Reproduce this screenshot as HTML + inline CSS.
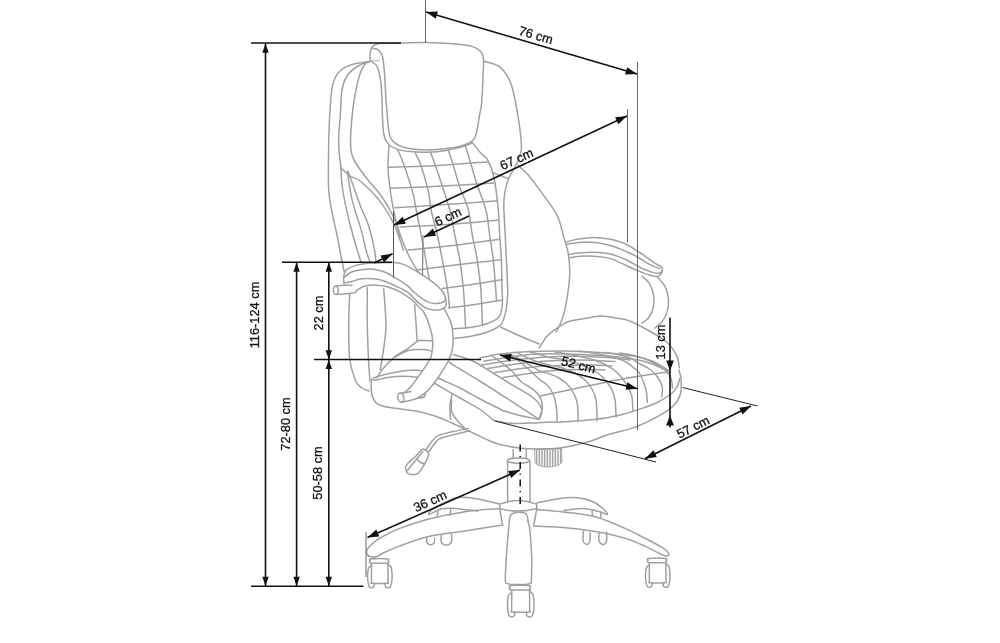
<!DOCTYPE html>
<html><head><meta charset="utf-8"><style>
html,body{margin:0;padding:0;background:#fff;width:1000px;height:643px;overflow:hidden}
svg{display:block;will-change:transform}
text{font-family:"Liberation Sans",sans-serif}
</style></head><body>
<svg width="1000" height="643" viewBox="0 0 1000 643" font-family="Liberation Sans, sans-serif"><path d="M378.0,43.5 C381.8,43.4 393.0,43.1 401.0,43.0 C409.0,42.9 416.5,42.4 426.0,42.6 C435.5,42.8 450.3,43.7 458.0,44.3 C465.7,44.9 468.3,45.2 472.0,46.4 C475.7,47.6 478.5,49.4 480.4,51.3 C482.3,53.2 482.8,55.1 483.3,57.6 C483.8,60.1 483.8,58.8 483.5,66.0 C483.2,73.2 482.4,92.8 481.8,101.0 C481.2,109.2 480.4,110.3 479.6,115.0 C478.8,119.7 478.0,125.6 477.2,129.4 C476.4,133.2 476.0,135.6 474.8,137.8 C473.6,140.0 470.8,141.8 470.0,142.6" fill="none" stroke="#a0a0a0" stroke-width="1.5" stroke-linecap="round" stroke-linejoin="round"/>
<path d="M378.0,43.6 C377.1,44.1 373.8,45.1 372.5,46.5 C371.2,47.9 370.7,49.6 370.3,52.0 C369.9,54.4 370.2,59.5 370.2,61.0" fill="none" stroke="#a0a0a0" stroke-width="1.5" stroke-linecap="round" stroke-linejoin="round"/>
<path d="M373.0,48.5 C373.9,48.7 376.6,48.6 378.2,49.9 C379.8,51.2 381.3,52.4 382.4,56.2 C383.4,60.1 383.9,65.7 384.5,73.0 C385.1,80.3 385.5,93.0 386.0,100.0 C386.5,107.0 386.9,110.3 387.3,115.0 C387.7,119.7 387.9,124.3 388.4,128.0 C388.9,131.7 389.2,134.6 390.2,137.0 C391.2,139.4 392.1,140.9 394.4,142.6 C396.7,144.3 399.4,146.2 404.0,147.4 C408.6,148.6 416.0,149.5 422.0,149.8 C428.0,150.1 434.0,149.7 440.0,149.2 C446.0,148.7 453.0,147.9 458.0,146.8 C463.0,145.7 468.0,143.3 470.0,142.6" fill="none" stroke="#a0a0a0" stroke-width="1.5" stroke-linecap="round" stroke-linejoin="round"/>
<path d="M370.2,61.0 C371.3,61.8 375.1,62.8 376.8,66.0 C378.5,69.2 379.6,74.3 380.5,80.0 C381.4,85.7 381.7,94.2 382.0,100.0 C382.3,105.8 382.1,109.5 382.4,115.0 C382.7,120.5 382.8,128.4 383.6,133.0 C384.4,137.6 385.2,140.0 387.2,142.6 C389.2,145.2 391.8,147.1 395.6,148.6 C399.4,150.1 404.6,151.0 410.0,151.6 C415.4,152.2 422.0,152.4 428.0,152.2 C434.0,152.0 440.0,151.4 446.0,150.4 C452.0,149.4 459.6,147.5 464.0,146.2 C468.4,144.9 471.0,143.2 472.4,142.6" fill="none" stroke="#a0a0a0" stroke-width="1.5" stroke-linecap="round" stroke-linejoin="round"/>
<line x1="370" y1="60.8" x2="380" y2="60.8" stroke="#a0a0a0" stroke-width="0.8" />
<path d="M369.5,61.5 C366.6,62.0 356.9,62.9 352.0,64.5 C347.1,66.1 343.1,68.1 340.0,71.0 C336.9,73.9 335.0,77.7 333.5,82.0 C332.0,86.3 331.7,90.7 331.0,97.0 C330.3,103.3 329.9,112.3 329.5,120.0 C329.1,127.7 328.8,131.3 328.7,143.0 C328.6,154.7 327.9,177.5 328.7,190.0 C329.5,202.5 331.9,210.5 333.3,218.0 C334.7,225.5 335.8,229.1 337.0,235.0 C338.2,240.9 339.3,247.1 340.5,253.3 C341.7,259.5 343.7,268.9 344.3,272.0" fill="none" stroke="#a0a0a0" stroke-width="1.5" stroke-linecap="round" stroke-linejoin="round"/>
<path d="M369.5,61.5 C367.6,62.2 361.8,63.6 358.0,66.0 C354.2,68.4 349.7,72.0 347.0,76.0 C344.3,80.0 343.1,84.0 342.0,90.0 C340.9,96.0 341.1,103.2 340.5,112.0 C339.9,120.8 338.5,133.7 338.6,143.0 C338.7,152.3 340.6,163.8 341.0,168.0" fill="none" stroke="#a0a0a0" stroke-width="1.5" stroke-linecap="round" stroke-linejoin="round"/>
<path d="M341.0,168.0 C341.2,171.3 341.2,180.0 342.4,188.0 C343.6,196.0 345.8,206.7 348.0,216.0 C350.2,225.3 353.2,236.3 355.4,244.0 C357.6,251.7 360.1,259.0 361.0,262.0" fill="none" stroke="#a0a0a0" stroke-width="1.5" stroke-linecap="round" stroke-linejoin="round"/>
<path d="M348.0,171.2 C348.8,173.5 351.4,180.7 353.0,185.0 C354.6,189.3 355.8,193.1 357.3,197.3 C358.8,201.5 360.1,205.3 362.0,210.0 C363.9,214.7 366.5,219.0 368.5,225.3 C370.5,231.6 372.9,241.6 374.1,247.7 C375.4,253.8 375.7,259.6 376.0,262.0" fill="none" stroke="#a0a0a0" stroke-width="1.5" stroke-linecap="round" stroke-linejoin="round"/>
<path d="M341.0,168.0 C342.5,169.3 346.8,173.8 350.0,176.0 C353.2,178.2 355.3,177.1 360.0,181.0 C364.7,184.9 372.7,192.1 378.4,199.3 C384.1,206.5 389.9,215.8 394.0,224.2 C398.1,232.6 401.8,245.7 403.3,250.0" fill="none" stroke="#a0a0a0" stroke-width="1.5" stroke-linecap="round" stroke-linejoin="round"/>
<path d="M369.8,61.5 C369.0,61.9 366.6,61.9 365.0,64.0 C363.4,66.1 361.5,69.7 360.0,74.0 C358.5,78.3 357.2,83.7 356.0,90.0 C354.8,96.3 353.4,103.2 352.5,112.0 C351.6,120.8 350.3,135.2 350.5,143.0 C350.7,150.8 350.9,153.2 353.5,158.9 C356.1,164.7 361.3,171.3 366.0,177.5 C370.7,183.7 376.8,189.4 381.5,196.2 C386.2,202.9 390.9,211.3 394.0,218.0 C397.1,224.7 399.2,233.5 400.2,236.6" fill="none" stroke="#a0a0a0" stroke-width="1.5" stroke-linecap="round" stroke-linejoin="round"/>
<path d="M347.3,171.3 C348.1,176.0 349.7,189.5 352.0,199.3 C354.3,209.2 359.0,222.0 361.3,230.4 C363.6,238.8 364.6,244.7 366.0,250.0 C367.4,255.3 369.3,260.0 370.0,262.0" fill="none" stroke="#a0a0a0" stroke-width="1.5" stroke-linecap="round" stroke-linejoin="round"/>
<path d="M483.5,61.0 C486.3,62.1 495.8,63.4 500.4,67.4 C505.0,71.4 508.4,76.8 511.3,84.8 C514.2,92.8 516.1,105.1 517.8,115.2 C519.5,125.3 521.2,138.9 521.5,145.7 C521.8,152.5 520.4,152.8 519.5,156.0 C518.6,159.2 517.4,162.0 516.0,165.0 C514.6,168.0 512.5,171.0 511.0,174.0 C509.5,177.0 508.0,180.0 507.0,183.0 C506.0,186.0 505.5,189.2 505.0,192.0 C504.5,194.8 504.2,198.7 504.0,200.0" fill="none" stroke="#a0a0a0" stroke-width="1.5" stroke-linecap="round" stroke-linejoin="round"/>
<path d="M493.1,172.6 C494.2,173.1 497.4,174.5 500.0,175.5 C502.6,176.5 507.2,178.2 508.7,178.8" fill="none" stroke="#a0a0a0" stroke-width="1.5" stroke-linecap="round" stroke-linejoin="round"/>
<path d="M518.0,165.0 C518.7,165.7 520.2,167.2 522.0,169.0 C523.8,170.8 525.9,172.1 528.9,175.7 C531.9,179.3 535.3,183.8 540.0,190.4 C544.7,197.0 553.0,207.1 557.0,215.2 C561.0,223.3 562.4,232.7 564.3,239.0 C566.2,245.3 567.3,247.6 568.2,253.0 C569.1,258.4 569.8,265.5 569.8,271.7 C569.8,277.9 569.1,283.6 568.2,290.3 C567.3,297.0 565.7,306.3 564.3,312.1 C562.9,317.9 561.1,321.7 559.7,325.0 C558.3,328.3 556.6,330.8 556.0,332.0" fill="none" stroke="#a0a0a0" stroke-width="1.5" stroke-linecap="round" stroke-linejoin="round"/>
<path d="M504.0,200.0 C504.0,201.7 503.6,202.1 503.9,210.0 C504.2,217.9 505.2,234.0 505.8,247.3 C506.4,260.6 507.5,281.2 507.7,290.0 C507.9,298.8 507.5,296.3 507.2,300.0 C506.9,303.7 506.7,307.9 505.6,312.0 C504.5,316.1 503.5,321.6 500.8,324.8 C498.1,328.0 494.4,329.3 489.6,331.2 C484.8,333.1 477.9,334.8 472.0,336.0 C466.1,337.2 457.3,338.0 454.4,338.4" fill="none" stroke="#a0a0a0" stroke-width="1.5" stroke-linecap="round" stroke-linejoin="round"/>
<path d="M389.0,145.6 C388.8,149.3 387.8,160.3 388.0,168.0 C388.2,175.7 389.5,184.7 390.5,192.0 C391.5,199.3 392.8,206.0 394.0,212.0 C395.2,218.0 396.3,222.5 398.0,228.0 C399.7,233.5 402.0,240.0 404.0,245.0 C406.0,250.0 407.8,253.8 410.0,258.0 C412.2,262.2 414.5,266.3 417.0,270.0 C419.5,273.7 423.7,278.3 425.0,280.0" fill="none" stroke="#a0a0a0" stroke-width="1.5" stroke-linecap="round" stroke-linejoin="round"/>
<path d="M472.4,142.6 C473.8,144.4 478.4,150.3 481.0,153.3 C483.6,156.3 485.8,156.5 488.0,160.6 C490.2,164.7 492.3,169.8 494.0,178.0 C495.7,186.2 497.4,200.5 498.3,210.0 C499.2,219.5 499.1,226.6 499.6,234.9 C500.1,243.2 501.0,250.6 501.4,259.8 C501.8,269.0 501.8,282.6 502.0,290.0 C502.2,297.4 502.9,299.5 502.4,304.0 C501.9,308.5 501.6,313.6 499.2,316.8 C496.8,320.0 492.5,321.5 488.0,323.2 C483.5,324.9 477.9,326.3 472.0,327.2 C466.1,328.1 456.0,328.5 452.8,328.8" fill="none" stroke="#a0a0a0" stroke-width="1.5" stroke-linecap="round" stroke-linejoin="round"/>
<path d="M398.0,150.4 C399.0,152.8 401.6,158.0 404.0,165.0 C406.4,172.0 410.7,184.7 412.7,192.2 C414.7,199.7 414.4,200.8 416.2,210.0 C418.0,219.2 421.5,236.3 423.6,247.3 C425.7,258.3 427.4,269.7 428.6,276.0 C429.8,282.3 430.6,283.5 431.0,285.0" fill="none" stroke="#a0a0a0" stroke-width="1.5" stroke-linecap="round" stroke-linejoin="round"/>
<path d="M414.8,152.2 C415.8,154.3 418.6,158.6 420.8,165.0 C423.0,171.4 426.5,183.2 428.2,190.7 C429.9,198.2 429.6,202.6 431.1,210.0 C432.6,217.4 435.4,226.6 437.3,234.9 C439.2,243.2 440.9,252.3 442.3,259.8 C443.8,267.3 445.0,274.1 446.0,280.0 C447.0,285.9 447.7,290.4 448.3,295.0 C448.9,299.6 449.2,305.5 449.4,307.6" fill="none" stroke="#a0a0a0" stroke-width="1.5" stroke-linecap="round" stroke-linejoin="round"/>
<path d="M430.4,152.2 C431.2,154.3 433.0,158.6 435.2,165.0 C437.4,171.4 441.4,183.2 443.8,190.7 C446.2,198.2 448.0,202.6 449.8,210.0 C451.6,217.4 453.2,226.6 454.8,234.9 C456.4,243.2 458.2,250.6 459.7,259.8 C461.1,269.0 462.5,278.6 463.5,290.0 C464.5,301.4 465.2,321.7 465.6,328.0" fill="none" stroke="#a0a0a0" stroke-width="1.5" stroke-linecap="round" stroke-linejoin="round"/>
<path d="M448.4,150.4 C449.2,152.8 451.4,159.1 453.2,165.0 C455.0,170.9 456.9,178.5 459.4,186.0 C461.9,193.5 466.3,201.8 468.4,210.0 C470.5,218.2 470.7,226.6 472.2,234.9 C473.7,243.2 475.8,250.6 477.2,259.8 C478.6,269.0 480.0,279.1 480.9,290.0 C481.8,300.9 482.1,319.2 482.4,325.0" fill="none" stroke="#a0a0a0" stroke-width="1.5" stroke-linecap="round" stroke-linejoin="round"/>
<path d="M465.2,145.6 C466.2,148.8 469.3,158.8 471.2,165.0 C473.1,171.2 474.1,175.4 476.5,182.9 C478.9,190.4 483.7,201.3 485.9,210.0 C488.1,218.7 488.4,226.6 489.6,234.9 C490.8,243.2 492.3,250.6 493.3,259.8 C494.3,269.0 495.3,283.1 495.8,290.0 C496.3,296.9 496.4,299.2 496.5,301.0" fill="none" stroke="#a0a0a0" stroke-width="1.5" stroke-linecap="round" stroke-linejoin="round"/>
<path d="M388.3,167.3 C396.6,167.0 421.5,166.4 438.0,165.5 C454.5,164.6 479.2,162.5 487.4,161.9" fill="none" stroke="#a0a0a0" stroke-width="1.5" stroke-linecap="round" stroke-linejoin="round"/>
<path d="M390.7,188.3 C399.2,187.9 424.7,186.9 442.0,186.0 C459.3,185.1 485.7,183.4 494.4,182.9" fill="none" stroke="#a0a0a0" stroke-width="1.5" stroke-linecap="round" stroke-linejoin="round"/>
<path d="M395.0,207.8 C403.5,207.2 428.9,205.7 446.0,204.5 C463.1,203.3 488.9,201.4 497.5,200.8" fill="none" stroke="#a0a0a0" stroke-width="1.5" stroke-linecap="round" stroke-linejoin="round"/>
<path d="M400.0,227.0 C408.5,226.6 434.6,225.5 451.0,224.3 C467.4,223.1 490.4,220.7 498.3,220.0" fill="none" stroke="#a0a0a0" stroke-width="1.5" stroke-linecap="round" stroke-linejoin="round"/>
<path d="M408.0,250.0 C416.2,249.2 441.9,246.7 457.2,244.9 C472.5,243.1 492.5,240.2 499.6,239.3" fill="none" stroke="#a0a0a0" stroke-width="1.5" stroke-linecap="round" stroke-linejoin="round"/>
<path d="M417.0,270.0 C423.7,269.1 443.1,266.5 457.2,264.8 C471.3,263.1 494.0,260.6 501.4,259.8" fill="none" stroke="#a0a0a0" stroke-width="1.5" stroke-linecap="round" stroke-linejoin="round"/>
<path d="M442.3,288.4 C447.2,287.8 462.0,285.9 472.0,284.5 C482.0,283.1 497.2,280.5 502.2,279.7" fill="none" stroke="#a0a0a0" stroke-width="1.5" stroke-linecap="round" stroke-linejoin="round"/>
<path d="M448.5,307.9 C452.9,307.3 466.1,305.8 475.0,304.5 C483.9,303.2 497.7,300.8 502.2,300.1" fill="none" stroke="#a0a0a0" stroke-width="1.5" stroke-linecap="round" stroke-linejoin="round"/>
<path d="M349.8,292.3 C349.6,297.8 348.7,313.7 348.7,325.0 C348.7,336.3 348.6,350.7 349.8,360.0 C351.0,369.3 353.7,376.3 355.7,381.0 C357.7,385.7 359.8,386.3 362.0,388.0 C364.2,389.7 367.8,390.5 369.0,391.0" fill="none" stroke="#a0a0a0" stroke-width="1.5" stroke-linecap="round" stroke-linejoin="round"/>
<path d="M367.3,287.7 C367.3,293.9 367.1,312.9 367.3,325.0 C367.5,337.1 368.1,350.7 368.5,360.0 C368.9,369.3 369.8,377.5 370.0,381.0" fill="none" stroke="#a0a0a0" stroke-width="1.5" stroke-linecap="round" stroke-linejoin="round"/>
<path d="M383.7,288.8 C384.1,294.8 386.0,315.1 386.0,325.0 C386.0,334.9 384.7,340.8 383.7,348.3 C382.7,355.8 380.8,366.4 380.2,370.0" fill="none" stroke="#a0a0a0" stroke-width="1.5" stroke-linecap="round" stroke-linejoin="round"/>
<path d="M414.6,304.8 C414.8,307.8 415.6,317.1 416.0,323.0 C416.4,328.9 417.0,337.6 417.2,340.5" fill="none" stroke="#a0a0a0" stroke-width="1.5" stroke-linecap="round" stroke-linejoin="round"/>
<path d="M424.4,313.2 C424.8,314.0 426.1,315.7 427.0,318.0 C427.9,320.3 429.5,325.5 430.0,327.0" fill="none" stroke="#a0a0a0" stroke-width="1.5" stroke-linecap="round" stroke-linejoin="round"/>
<path d="M417.0,340.5 C418.3,340.5 422.4,340.4 425.0,340.5 C427.6,340.6 431.5,340.9 432.8,341.0" fill="none" stroke="#a0a0a0" stroke-width="1.5" stroke-linecap="round" stroke-linejoin="round"/>
<path d="M371.2,380.4 C371.3,382.8 370.8,390.9 372.0,395.0 C373.2,399.1 374.5,402.4 378.7,404.7 C382.9,406.9 390.8,407.4 397.0,408.5 C403.2,409.6 409.7,409.8 416.0,411.0 C422.3,412.2 428.8,413.9 435.0,416.0 C441.2,418.1 446.8,420.8 453.0,423.5 C459.2,426.2 465.8,429.6 472.0,432.5 C478.2,435.4 485.0,438.9 490.0,441.0 C495.0,443.1 496.9,443.8 502.0,445.0 C507.1,446.2 514.0,447.6 520.7,448.3 C527.4,449.0 535.8,449.0 542.0,449.0 C548.2,449.0 553.3,448.8 558.0,448.3 C562.7,447.9 564.7,447.5 570.0,446.3 C575.3,445.1 583.3,443.4 590.0,441.3 C596.7,439.2 602.7,436.3 610.0,434.0 C617.3,431.7 626.0,430.5 634.0,427.6 C642.0,424.7 651.3,420.1 658.0,416.4 C664.7,412.7 670.3,408.9 674.0,405.2 C677.7,401.5 679.2,398.2 680.4,394.0 C681.6,389.8 681.4,384.0 681.2,380.0 C681.0,376.0 679.4,371.7 679.0,370.0" fill="none" stroke="#a0a0a0" stroke-width="1.5" stroke-linecap="round" stroke-linejoin="round"/>
<path d="M371.2,380.4 C372.1,379.8 372.4,378.1 376.8,376.7 C381.2,375.3 390.8,373.1 397.3,372.0 C403.8,370.9 410.9,370.0 416.0,370.1 C421.1,370.2 424.3,371.2 428.0,372.5 C431.7,373.8 432.7,375.4 438.0,378.0 C443.3,380.6 453.0,384.5 460.0,388.0 C467.0,391.5 473.3,395.5 480.0,399.0 C486.7,402.5 495.9,407.0 500.0,409.0 C504.1,411.0 501.4,410.0 504.4,411.0 C507.4,412.0 512.3,413.6 518.0,415.0 C523.7,416.4 535.1,418.6 538.5,419.3" fill="none" stroke="#a0a0a0" stroke-width="1.5" stroke-linecap="round" stroke-linejoin="round"/>
<path d="M376.8,377.6 C378.0,376.0 380.8,371.3 383.8,367.8 C386.8,364.3 391.3,359.6 395.0,356.6 C398.7,353.6 402.5,352.2 406.2,349.6 C409.9,347.0 415.5,342.6 417.4,341.2" fill="none" stroke="#a0a0a0" stroke-width="1.5" stroke-linecap="round" stroke-linejoin="round"/>
<path d="M395.0,357.0 C397.3,355.9 404.3,351.5 409.0,350.3 C413.7,349.1 419.3,349.5 423.0,349.6 C426.7,349.7 430.0,350.8 431.4,351.0" fill="none" stroke="#a0a0a0" stroke-width="1.5" stroke-linecap="round" stroke-linejoin="round"/>
<path d="M374.0,380.4 C376.3,379.9 383.3,378.2 388.0,377.5 C392.7,376.8 396.9,376.2 402.0,376.2 C407.1,376.2 414.5,377.0 418.8,377.6 C423.1,378.2 425.5,379.1 428.0,380.0 C430.5,380.9 428.7,380.0 434.0,383.0 C439.3,386.0 452.3,393.6 460.0,398.0 C467.7,402.4 474.3,405.7 480.0,409.5 C485.7,413.3 491.7,418.8 494.0,420.6" fill="none" stroke="#a0a0a0" stroke-width="1.5" stroke-linecap="round" stroke-linejoin="round"/>
<path d="M449.3,362.5 C454.4,365.6 469.1,374.4 479.7,381.0 C490.3,387.6 502.8,395.8 512.7,402.2 C522.6,408.6 534.8,416.4 539.2,419.3" fill="none" stroke="#a0a0a0" stroke-width="1.5" stroke-linecap="round" stroke-linejoin="round"/>
<path d="M453.2,354.5 C456.5,355.6 466.4,358.1 473.0,361.2 C479.6,364.3 486.7,369.3 492.9,373.0 C499.1,376.7 504.5,380.3 510.0,383.6 C515.5,386.9 521.8,390.2 526.0,392.9 C530.2,395.5 532.8,397.3 535.2,399.5 C537.6,401.7 539.4,403.9 540.5,406.1 C541.6,408.3 542.0,410.5 541.8,412.7 C541.6,414.9 539.6,418.2 539.2,419.3" fill="none" stroke="#a0a0a0" stroke-width="1.5" stroke-linecap="round" stroke-linejoin="round"/>
<path d="M451.9,394.5 C451.6,396.4 450.1,402.0 449.9,406.1 C449.7,410.2 450.5,417.1 450.6,419.3" fill="none" stroke="#a0a0a0" stroke-width="1.5" stroke-linecap="round" stroke-linejoin="round"/>
<path d="M480.0,358.0 C483.3,357.3 491.7,355.1 500.0,354.0 C508.3,352.9 519.0,352.0 530.0,351.5 C541.0,351.0 554.3,350.8 566.0,351.0 C577.7,351.2 588.8,351.8 600.0,352.6 C611.2,353.4 624.3,354.6 633.0,356.0 C641.7,357.4 646.2,358.7 652.0,361.0 C657.8,363.3 665.3,368.5 668.0,370.0" fill="none" stroke="#a0a0a0" stroke-width="1.5" stroke-linecap="round" stroke-linejoin="round"/>
<path d="M494.0,420.6 C496.7,421.1 504.0,422.9 510.0,423.3 C516.0,423.7 523.3,423.2 530.0,423.0 C536.7,422.8 544.7,422.2 550.0,422.0 C555.3,421.8 554.7,422.4 562.0,422.0 C569.3,421.6 584.7,420.7 594.0,419.6 C603.3,418.5 610.0,417.5 618.0,415.6 C626.0,413.7 635.3,410.7 642.0,408.4 C648.7,406.1 653.2,404.4 658.0,402.0 C662.8,399.6 667.8,396.5 671.0,394.0 C674.2,391.5 675.5,389.7 677.0,387.0 C678.5,384.3 679.5,379.5 680.0,378.0" fill="none" stroke="#a0a0a0" stroke-width="1.5" stroke-linecap="round" stroke-linejoin="round"/>
<path d="M484.0,361.0 C491.7,359.9 516.3,355.7 530.0,354.5 C543.7,353.3 554.3,353.8 566.0,354.0 C577.7,354.2 588.8,354.7 600.0,355.5 C611.2,356.3 624.3,357.6 633.0,359.0 C641.7,360.4 646.2,362.0 652.0,364.0 C657.8,366.0 665.3,369.8 668.0,371.0" fill="none" stroke="#a0a0a0" stroke-width="1.5" stroke-linecap="round" stroke-linejoin="round"/>
<path d="M557.0,421.0 C557.0,419.8 557.3,417.5 557.0,414.0 C556.7,410.5 556.0,404.0 555.0,400.0 C554.0,396.0 552.5,392.7 551.0,390.0 C549.5,387.3 547.8,385.7 546.0,384.0 C544.2,382.3 542.7,382.2 540.0,380.0 C537.3,377.8 533.3,373.5 530.0,370.5 C526.7,367.5 523.3,364.6 520.0,362.0 C516.7,359.4 511.7,356.2 510.0,355.0" fill="none" stroke="#a0a0a0" stroke-width="1.5" stroke-linecap="round" stroke-linejoin="round"/>
<path d="M578.0,421.0 C578.0,419.8 578.2,417.2 578.0,414.0 C577.8,410.8 577.8,405.7 577.0,402.0 C576.2,398.3 574.7,395.0 573.0,392.0 C571.3,389.0 569.3,386.3 567.0,384.0 C564.7,381.7 561.8,379.7 559.0,378.0 C556.2,376.3 553.2,375.2 550.0,374.0 C546.8,372.8 543.7,372.7 540.0,371.0 C536.3,369.3 532.0,366.3 528.0,364.0 C524.0,361.7 519.7,358.8 516.0,357.0 C512.3,355.2 507.7,354.1 506.0,353.5" fill="none" stroke="#a0a0a0" stroke-width="1.5" stroke-linecap="round" stroke-linejoin="round"/>
<path d="M597.0,421.0 C597.0,419.8 597.2,417.5 597.0,414.0 C596.8,410.5 596.8,404.2 596.0,400.0 C595.2,395.8 593.7,392.2 592.0,389.0 C590.3,385.8 588.3,383.3 586.0,381.0 C583.7,378.7 581.0,376.8 578.0,375.0 C575.0,373.2 571.5,371.4 568.0,370.0 C564.5,368.6 560.8,367.5 557.0,366.5 C553.2,365.5 548.7,364.9 545.0,364.0 C541.3,363.1 538.3,362.2 535.0,361.0 C531.7,359.8 527.8,357.8 525.0,356.5 C522.2,355.2 519.2,353.6 518.0,353.0" fill="none" stroke="#a0a0a0" stroke-width="1.5" stroke-linecap="round" stroke-linejoin="round"/>
<path d="M616.0,417.0 C616.0,416.5 616.2,416.8 616.0,414.0 C615.8,411.2 615.7,404.0 615.0,400.0 C614.3,396.0 613.5,393.2 612.0,390.0 C610.5,386.8 608.2,383.7 606.0,381.0 C603.8,378.3 601.7,376.0 599.0,374.0 C596.3,372.0 593.2,370.6 590.0,369.0 C586.8,367.4 584.2,366.0 580.0,364.5 C575.8,363.0 570.0,361.2 565.0,360.0 C560.0,358.8 554.5,358.5 550.0,357.5 C545.5,356.5 541.3,354.9 538.0,354.0 C534.7,353.1 531.3,352.3 530.0,352.0" fill="none" stroke="#a0a0a0" stroke-width="1.5" stroke-linecap="round" stroke-linejoin="round"/>
<path d="M633.0,411.0 C632.9,409.8 632.7,406.3 632.5,404.0 C632.3,401.7 632.8,399.8 632.0,397.0 C631.2,394.2 629.7,390.2 628.0,387.0 C626.3,383.8 624.3,380.8 622.0,378.0 C619.7,375.2 617.0,372.3 614.0,370.0 C611.0,367.7 607.3,365.7 604.0,364.0 C600.7,362.3 597.7,361.2 594.0,360.0 C590.3,358.8 586.3,358.0 582.0,357.0 C577.7,356.0 572.5,354.8 568.0,354.0 C563.5,353.2 557.2,352.3 555.0,352.0" fill="none" stroke="#a0a0a0" stroke-width="1.5" stroke-linecap="round" stroke-linejoin="round"/>
<path d="M647.3,402.2 C647.1,400.2 647.2,394.7 646.0,390.0 C644.8,385.3 642.0,377.7 640.0,374.0 C638.0,370.3 636.3,370.0 634.0,368.0 C631.7,366.0 629.0,363.7 626.0,362.0 C623.0,360.3 619.7,359.2 616.0,358.0 C612.3,356.8 608.3,355.9 604.0,355.0 C599.7,354.1 594.3,353.1 590.0,352.5 C585.7,351.9 580.0,351.5 578.0,351.3" fill="none" stroke="#a0a0a0" stroke-width="1.5" stroke-linecap="round" stroke-linejoin="round"/>
<path d="M661.9,396.9 C661.9,395.1 663.0,389.6 662.0,386.0 C661.0,382.4 658.3,378.0 656.0,375.0 C653.7,372.0 650.7,369.8 648.0,368.0 C645.3,366.2 643.0,365.7 640.0,364.0 C637.0,362.3 633.3,359.5 630.0,358.0 C626.7,356.5 624.2,355.9 620.0,355.0 C615.8,354.1 607.5,352.9 605.0,352.5" fill="none" stroke="#a0a0a0" stroke-width="1.5" stroke-linecap="round" stroke-linejoin="round"/>
<path d="M672.5,388.0 C672.2,386.3 672.2,381.0 671.0,378.0 C669.8,375.0 667.5,372.3 665.0,370.0 C662.5,367.7 659.3,365.8 656.0,364.0 C652.7,362.2 649.0,360.5 645.0,359.0 C641.0,357.5 636.2,356.0 632.0,355.0 C627.8,354.0 622.0,353.3 620.0,353.0" fill="none" stroke="#a0a0a0" stroke-width="1.5" stroke-linecap="round" stroke-linejoin="round"/>
<path d="M538.7,419.6 C539.3,417.5 542.2,410.9 542.4,407.2 C542.6,403.5 541.5,400.1 540.0,397.2 C538.5,394.3 536.9,392.4 533.7,389.8 C530.5,387.2 524.7,384.7 521.0,381.5 C517.3,378.3 514.5,373.6 511.3,370.5 C508.1,367.4 505.1,365.4 502.0,363.0 C498.9,360.6 494.1,357.4 492.5,356.3" fill="none" stroke="#a0a0a0" stroke-width="1.5" stroke-linecap="round" stroke-linejoin="round"/>
<path d="M482.0,365.0 C488.0,364.1 505.3,360.9 518.0,359.5 C530.7,358.1 544.3,356.9 558.0,356.5 C571.7,356.1 588.0,356.4 600.0,357.0 C612.0,357.6 625.0,359.5 630.0,360.0" fill="none" stroke="#a0a0a0" stroke-width="1.5" stroke-linecap="round" stroke-linejoin="round"/>
<path d="M488.0,368.5 C494.7,367.5 513.0,363.9 528.0,362.5 C543.0,361.1 563.5,360.2 578.0,360.0 C592.5,359.8 608.8,361.2 615.0,361.5" fill="none" stroke="#a0a0a0" stroke-width="1.5" stroke-linecap="round" stroke-linejoin="round"/>
<path d="M495.0,372.5 C502.2,371.5 522.2,367.8 538.0,366.5 C553.8,365.2 577.7,365.1 590.0,365.0 C602.3,364.9 608.3,365.8 612.0,366.0" fill="none" stroke="#a0a0a0" stroke-width="1.5" stroke-linecap="round" stroke-linejoin="round"/>
<path d="M503.0,377.5 C510.5,376.4 534.3,372.3 548.0,371.0 C561.7,369.7 575.5,369.7 585.0,369.5 C594.5,369.3 601.7,369.9 605.0,370.0" fill="none" stroke="#a0a0a0" stroke-width="1.5" stroke-linecap="round" stroke-linejoin="round"/>
<path d="M540.0,396.0 C546.3,394.7 567.0,390.3 578.0,388.0 C589.0,385.7 598.2,383.9 606.0,382.3 C613.8,380.7 617.7,379.9 625.0,378.6 C632.3,377.3 642.5,375.6 650.0,374.5 C657.5,373.4 666.7,372.4 670.0,372.0" fill="none" stroke="#a0a0a0" stroke-width="1.5" stroke-linecap="round" stroke-linejoin="round"/>
<path d="M500.8,327.2 C504.0,328.7 513.6,333.2 520.0,336.0 C526.4,338.8 536.0,342.7 539.2,344.0" fill="none" stroke="#a0a0a0" stroke-width="1.5" stroke-linecap="round" stroke-linejoin="round"/>
<path d="M539.2,348.0 C540.5,346.0 544.4,339.2 547.2,336.0 C550.0,332.8 552.6,331.1 556.0,328.8 C559.4,326.5 562.4,323.8 567.4,322.0 C572.4,320.2 580.4,319.3 586.1,318.3 C591.8,317.3 596.5,316.0 601.7,316.0 C606.9,316.0 612.8,317.6 617.2,318.3 C621.6,319.0 622.9,318.4 628.0,320.4 C633.1,322.3 641.2,326.4 647.6,330.0 C654.0,333.6 661.6,337.7 666.5,342.0 C671.4,346.3 674.6,351.4 676.7,355.7 C678.8,360.0 678.9,365.6 679.3,367.6" fill="none" stroke="#a0a0a0" stroke-width="1.5" stroke-linecap="round" stroke-linejoin="round"/>
<path d="M565.9,242.1 C568.0,241.6 573.6,239.8 578.3,239.0 C583.0,238.2 588.7,237.4 593.9,237.4 C599.1,237.4 604.2,237.9 609.4,239.0 C614.6,240.1 619.8,241.4 625.0,243.7 C630.2,246.0 635.3,249.6 640.5,253.0 C645.7,256.4 652.6,261.6 656.1,263.9 C659.6,266.2 660.5,266.0 661.5,267.0 C662.5,268.0 662.7,269.1 662.3,270.1 C661.9,271.1 660.8,272.8 659.2,273.2 C657.7,273.6 655.9,273.2 653.0,272.4 C650.1,271.6 646.8,270.7 642.1,268.5 C637.4,266.3 630.5,261.6 625.0,259.2 C619.5,256.8 614.6,255.0 609.4,253.8 C604.2,252.6 599.1,252.3 593.9,252.2 C588.7,252.1 582.4,252.6 578.3,253.0 C574.1,253.4 570.5,254.2 569.0,254.5" fill="none" stroke="#a0a0a0" stroke-width="1.5" stroke-linecap="round" stroke-linejoin="round"/>
<path d="M566.7,244.4 C569.9,244.0 579.0,242.0 586.1,242.1 C593.2,242.2 601.6,243.1 609.4,245.2 C617.2,247.3 625.8,251.1 632.8,254.5 C639.8,257.9 646.9,263.1 651.4,265.4 C655.9,267.7 658.6,268.0 660.0,268.5" fill="none" stroke="#a0a0a0" stroke-width="1.5" stroke-linecap="round" stroke-linejoin="round"/>
<path d="M569.8,257.7 C572.5,257.4 579.5,256.0 586.1,256.1 C592.7,256.2 601.6,256.3 609.4,258.4 C617.2,260.5 626.3,265.8 632.8,268.5 C639.3,271.2 644.1,273.5 648.3,274.8 C652.5,276.1 655.7,277.0 658.0,276.5 C660.3,276.0 661.6,272.8 662.3,272.0" fill="none" stroke="#a0a0a0" stroke-width="1.5" stroke-linecap="round" stroke-linejoin="round"/>
<path d="M657.6,277.1 C658.9,278.8 663.6,283.4 665.4,287.2 C667.2,290.9 668.2,295.5 668.5,299.6 C668.8,303.8 668.0,308.5 667.0,312.1 C666.0,315.7 664.3,318.8 662.3,321.4 C660.3,324.0 656.2,326.9 655.0,328.0" fill="none" stroke="#a0a0a0" stroke-width="1.5" stroke-linecap="round" stroke-linejoin="round"/>
<path d="M642.1,276.3 C643.4,277.6 648.0,280.7 649.9,284.1 C651.8,287.5 653.3,292.4 653.8,296.5 C654.3,300.6 653.9,305.4 653.0,309.0 C652.1,312.6 650.1,316.0 648.3,318.3 C646.5,320.6 643.0,322.2 642.0,323.0" fill="none" stroke="#a0a0a0" stroke-width="1.5" stroke-linecap="round" stroke-linejoin="round"/>
<path d="M344.0,283.0 C343.9,282.0 343.4,278.8 343.6,277.0 C343.8,275.2 344.3,273.4 345.0,272.0 C345.7,270.6 346.2,269.7 348.0,268.6 C349.8,267.5 353.3,266.2 356.0,265.4 C358.7,264.6 361.1,264.2 364.0,263.8 C366.9,263.4 368.5,263.2 373.6,263.0 C378.7,262.8 389.3,262.3 394.4,262.6 C399.5,262.9 401.1,263.6 404.0,264.6 C406.9,265.6 409.3,267.1 412.0,268.6 C414.7,270.1 417.0,271.5 420.0,273.4 C423.0,275.3 427.1,278.0 430.0,280.1 C432.9,282.2 435.5,284.2 437.7,286.3 C439.9,288.4 441.9,290.6 443.2,292.5 C444.5,294.4 445.0,296.3 445.5,298.0 C446.0,299.7 446.3,301.2 446.3,302.6 C446.3,304.0 446.3,305.4 445.5,306.5 C444.7,307.6 443.5,308.6 441.6,309.2 C439.7,309.8 436.5,310.2 433.9,310.0 C431.3,309.8 428.7,309.3 426.1,308.1 C423.5,306.9 421.3,305.2 418.3,302.6 C415.3,300.0 411.7,295.3 408.0,292.6 C404.3,289.9 400.0,288.1 396.0,286.2 C392.0,284.3 387.3,282.2 384.0,281.0 C380.7,279.8 378.7,279.4 376.0,279.0 C373.3,278.6 370.7,278.6 368.0,278.6 C365.3,278.6 362.7,278.5 360.0,279.0 C357.3,279.5 354.7,280.7 352.0,281.4 C349.3,282.1 345.3,282.7 344.0,283.0 C342.7,283.3 344.1,284.0 344.0,283.0Z" fill="#fff" stroke="none"/>
<path d="M412.0,299.8 C408.2,299.3 416.2,304.3 418.3,306.5 C420.4,308.7 422.4,309.8 424.4,313.2 C426.3,316.6 428.6,322.5 430.0,327.2 C431.4,331.9 432.5,337.1 432.8,341.2 C433.1,345.3 432.5,348.9 432.0,352.0 C431.5,355.1 431.6,356.3 429.6,360.0 C427.6,363.7 423.2,369.9 420.0,374.4 C416.8,378.9 413.1,384.1 410.4,387.2 C407.7,390.3 405.6,391.4 404.0,393.0 C402.4,394.6 400.2,395.7 401.0,397.0 C401.8,398.3 406.2,400.6 408.8,400.8 C411.4,401.0 414.4,399.5 416.8,398.4 C419.2,397.3 421.1,396.0 423.2,394.4 C425.3,392.8 426.9,391.9 429.6,388.8 C432.3,385.7 436.0,380.8 439.2,376.0 C442.4,371.2 446.6,364.5 448.8,360.0 C451.0,355.5 451.7,352.8 452.4,349.0 C453.1,345.2 453.3,341.3 453.1,337.0 C452.9,332.7 452.5,327.8 451.0,323.0 C449.5,318.2 445.7,310.8 444.0,308.5 C442.3,306.2 446.3,310.9 441.0,309.5 C435.7,308.1 415.8,300.3 412.0,299.8Z" fill="#fff" stroke="none"/>
<path d="M336.0,286.5 C337.9,284.9 344.5,284.4 348.0,285.0 C351.5,285.6 355.6,288.9 356.8,290.2 C358.0,291.5 356.7,292.1 355.2,292.6 C353.7,293.1 351.1,293.1 348.0,293.4 C344.9,293.7 338.5,295.6 336.5,294.5 C334.5,293.4 334.1,288.1 336.0,286.5Z" fill="#fff" stroke="none"/>
<path d="M344.0,283.0 C343.9,282.0 343.4,278.8 343.6,277.0 C343.8,275.2 344.3,273.4 345.0,272.0 C345.7,270.6 346.2,269.7 348.0,268.6 C349.8,267.5 353.3,266.2 356.0,265.4 C358.7,264.6 361.1,264.2 364.0,263.8 C366.9,263.4 368.5,263.2 373.6,263.0 C378.7,262.8 389.3,262.3 394.4,262.6 C399.5,262.9 401.1,263.6 404.0,264.6 C406.9,265.6 409.3,267.1 412.0,268.6 C414.7,270.1 417.0,271.5 420.0,273.4 C423.0,275.3 427.1,278.0 430.0,280.1 C432.9,282.2 435.5,284.2 437.7,286.3 C439.9,288.4 441.9,290.6 443.2,292.5 C444.5,294.4 445.2,296.6 445.5,298.0 C445.8,299.4 445.6,300.3 444.7,301.1 C443.8,301.9 441.9,302.6 440.1,303.0 C438.3,303.4 436.0,303.6 433.9,303.4 C431.8,303.2 429.6,302.7 427.6,301.9 C425.7,301.1 424.4,300.3 422.2,298.7 C420.0,297.1 416.8,294.6 414.4,292.5 C412.0,290.4 410.4,288.2 408.0,286.2 C405.6,284.2 402.7,282.3 400.0,280.6 C397.3,278.9 394.7,277.3 392.0,275.8 C389.3,274.3 387.1,272.9 384.0,271.8 C380.9,270.7 376.9,269.6 373.6,269.2 C370.3,268.8 367.6,269.0 364.0,269.4 C360.4,269.8 355.2,270.5 352.0,271.8 C348.8,273.1 345.8,276.1 344.5,277.0" fill="none" stroke="#a0a0a0" stroke-width="1.5" stroke-linecap="round" stroke-linejoin="round"/>
<path d="M344.0,283.0 C345.3,282.7 349.3,282.1 352.0,281.4 C354.7,280.7 357.3,279.5 360.0,279.0 C362.7,278.5 365.3,278.6 368.0,278.6 C370.7,278.6 373.3,278.6 376.0,279.0 C378.7,279.4 380.7,279.8 384.0,281.0 C387.3,282.2 392.0,284.3 396.0,286.2 C400.0,288.1 404.3,289.9 408.0,292.6 C411.7,295.3 415.3,300.0 418.3,302.6 C421.3,305.2 423.5,306.9 426.1,308.1 C428.7,309.3 431.3,309.8 433.9,310.0 C436.5,310.2 439.7,309.8 441.6,309.2 C443.5,308.6 444.7,307.6 445.5,306.5 C446.3,305.4 446.3,304.0 446.3,302.6 C446.3,301.2 445.6,298.8 445.5,298.0" fill="none" stroke="#a0a0a0" stroke-width="1.5" stroke-linecap="round" stroke-linejoin="round"/>
<path d="M444.0,308.5 C445.2,310.9 449.5,318.2 451.0,323.0 C452.5,327.8 452.9,332.7 453.1,337.0 C453.3,341.3 453.1,345.2 452.4,349.0 C451.7,352.8 451.0,355.5 448.8,360.0 C446.6,364.5 442.4,371.2 439.2,376.0 C436.0,380.8 432.3,385.7 429.6,388.8 C426.9,391.9 425.3,392.8 423.2,394.4 C421.1,396.0 419.2,397.3 416.8,398.4 C414.4,399.5 410.1,400.4 408.8,400.8" fill="none" stroke="#a0a0a0" stroke-width="1.5" stroke-linecap="round" stroke-linejoin="round"/>
<path d="M356.8,290.2 C358.0,289.5 361.5,287.1 364.0,286.2 C366.5,285.3 369.3,285.1 372.0,285.0 C374.7,284.9 377.3,285.1 380.0,285.4 C382.7,285.7 384.7,285.9 388.0,287.0 C391.3,288.1 396.0,289.7 400.0,291.8 C404.0,293.9 408.9,297.4 412.0,299.8 C415.1,302.2 416.2,304.3 418.3,306.5 C420.4,308.7 422.4,309.8 424.4,313.2 C426.3,316.6 428.6,322.5 430.0,327.2 C431.4,331.9 432.5,337.1 432.8,341.2 C433.1,345.3 432.5,348.9 432.0,352.0 C431.5,355.1 431.6,356.3 429.6,360.0 C427.6,363.7 423.2,369.9 420.0,374.4 C416.8,378.9 413.1,384.1 410.4,387.2 C407.7,390.3 405.1,392.0 404.0,393.0" fill="none" stroke="#a0a0a0" stroke-width="1.5" stroke-linecap="round" stroke-linejoin="round"/>
<ellipse cx="335.8" cy="290.3" rx="2.5" ry="4.1" transform="rotate(0 335.8 290.3)" fill="#fff" stroke="#a0a0a0" stroke-width="1.5"/>
<path d="M336.0,286.3 C336.7,286.1 338.0,285.6 340.0,285.4 C342.0,285.2 346.0,285.0 348.0,285.0 C350.0,285.0 351.3,285.5 352.0,285.6" fill="none" stroke="#a0a0a0" stroke-width="1.5" stroke-linecap="round" stroke-linejoin="round"/>
<path d="M336.5,294.3 C337.1,294.3 338.1,294.4 340.0,294.2 C341.9,294.0 345.5,293.7 348.0,293.4 C350.5,293.1 353.7,293.1 355.2,292.6 C356.7,292.1 356.5,290.6 356.8,290.2" fill="none" stroke="#a0a0a0" stroke-width="1.5" stroke-linecap="round" stroke-linejoin="round"/>
<ellipse cx="400.8" cy="397.6" rx="3.1" ry="4.6" transform="rotate(-15 400.8 397.6)" fill="#fff" stroke="#a0a0a0" stroke-width="1.5"/>
<path d="M401.0,393.0 C401.8,392.9 404.3,392.6 406.0,392.4 C407.7,392.1 410.2,391.6 411.0,391.5" fill="none" stroke="#a0a0a0" stroke-width="1.5" stroke-linecap="round" stroke-linejoin="round"/>
<path d="M401.5,402.2 C402.7,402.0 407.6,401.0 408.8,400.8" fill="none" stroke="#a0a0a0" stroke-width="1.5" stroke-linecap="round" stroke-linejoin="round"/>
<path d="M416.8,398.4 C418.0,398.2 422.6,397.8 424.0,397.0 C425.4,396.2 425.1,393.9 425.0,393.5 C424.9,393.1 423.5,394.2 423.2,394.4" fill="none" stroke="#a0a0a0" stroke-width="1.5" stroke-linecap="round" stroke-linejoin="round"/>
<path d="M451.6,400.0 C451.6,401.9 450.7,407.8 451.6,411.2 C452.5,414.6 455.0,417.7 457.2,420.5 C459.4,423.3 463.4,426.8 464.7,428.0" fill="none" stroke="#a0a0a0" stroke-width="1.5" stroke-linecap="round" stroke-linejoin="round"/>
<path d="M468.5,428.3 C465.6,428.9 455.9,430.9 451.0,432.1 C446.1,433.3 441.7,434.3 438.9,435.4 C436.1,436.5 435.6,437.4 434.2,438.7 C432.8,440.0 431.9,441.4 430.5,443.3 C429.1,445.2 426.6,448.8 425.8,449.9" fill="none" stroke="#a0a0a0" stroke-width="1.5" stroke-linecap="round" stroke-linejoin="round"/>
<path d="M470.0,430.7 C466.8,431.5 456.2,434.0 451.0,435.4 C445.8,436.8 441.7,437.6 438.9,439.1 C436.1,440.6 435.9,442.2 434.2,444.3 C432.5,446.4 429.5,450.5 428.6,451.7" fill="none" stroke="#a0a0a0" stroke-width="1.5" stroke-linecap="round" stroke-linejoin="round"/>
<path d="M422.0,449.5 C423.5,448.6 424.4,449.1 425.5,449.8 C426.6,450.5 428.4,451.9 428.6,453.6 C428.8,455.3 427.9,457.5 426.7,460.1 C425.4,462.8 422.7,467.2 421.1,469.5 C419.6,471.8 419.1,472.9 417.4,473.7 C415.7,474.5 412.6,474.7 410.9,474.5 C409.2,474.3 408.0,473.7 407.1,472.5 C406.2,471.3 405.3,469.1 405.5,467.5 C405.7,465.9 406.3,465.0 408.1,463.0 C409.9,461.0 414.2,457.8 416.5,455.5 C418.8,453.2 420.5,450.4 422.0,449.5Z" fill="none" stroke="#a0a0a0" stroke-width="1.5" stroke-linecap="round" stroke-linejoin="round"/>
<path d="M407.5,470.5 C408.8,468.9 412.4,464.1 415.0,461.0 C417.6,457.9 421.7,453.2 423.0,451.7" fill="none" stroke="#a0a0a0" stroke-width="1.5" stroke-linecap="round" stroke-linejoin="round"/>
<path d="M417.4,459.2 C417.9,459.8 419.2,461.7 420.5,462.5 C421.8,463.3 424.2,463.7 424.9,463.9" fill="none" stroke="#a0a0a0" stroke-width="1.5" stroke-linecap="round" stroke-linejoin="round"/>
<path d="M513.2,449.5 C513.2,451.0 513.2,457.0 513.2,458.5" fill="none" stroke="#a0a0a0" stroke-width="1.5" stroke-linecap="round" stroke-linejoin="round"/>
<path d="M526.3,449.5 C526.3,451.0 526.3,457.0 526.3,458.5" fill="none" stroke="#a0a0a0" stroke-width="1.5" stroke-linecap="round" stroke-linejoin="round"/>
<ellipse cx="518.5" cy="460.6" rx="11.2" ry="2.6" transform="rotate(0 518.5 460.6)" fill="none" stroke="#a0a0a0" stroke-width="1.5"/>
<path d="M507.6,461.6 C507.6,468.3 507.6,495.1 507.6,501.8" fill="none" stroke="#a0a0a0" stroke-width="1.5" stroke-linecap="round" stroke-linejoin="round"/>
<path d="M530.0,461.6 C530.0,468.3 530.0,495.1 530.0,501.8" fill="none" stroke="#a0a0a0" stroke-width="1.5" stroke-linecap="round" stroke-linejoin="round"/>
<defs><pattern id="rib" width="1.6" height="4" patternUnits="userSpaceOnUse"><rect width="0.8" height="4" fill="#9a9a9a"/></pattern></defs>
<path d="M534.5,449 L561.5,448.5 L562,462 Q560,466.5 548,467 Q536,466.5 535,462 Z" fill="url(#rib)" stroke="#999" stroke-width="0.8"/>
<path d="M500.0,504.0 C501.5,503.6 506.0,502.1 509.0,501.5 C512.0,500.9 515.0,500.6 518.0,500.6 C521.0,500.6 523.9,500.9 527.0,501.5 C530.1,502.1 534.9,503.6 536.5,504.0" fill="none" stroke="#a0a0a0" stroke-width="1.5" stroke-linecap="round" stroke-linejoin="round"/>
<path d="M499.7,508.5 C501.2,508.8 505.9,510.1 509.0,510.5 C512.0,510.9 515.0,511.0 518.0,511.0 C521.0,511.0 523.9,510.9 527.0,510.5 C530.1,510.1 535.1,508.8 536.7,508.5" fill="none" stroke="#a0a0a0" stroke-width="1.5" stroke-linecap="round" stroke-linejoin="round"/>
<path d="M499.7,505.0 C499.7,505.6 499.5,506.7 499.7,508.5 C499.9,510.3 500.5,513.2 501.0,516.0 C501.5,518.8 502.3,523.5 502.6,525.0" fill="none" stroke="#a0a0a0" stroke-width="1.5" stroke-linecap="round" stroke-linejoin="round"/>
<path d="M536.7,505.0 C536.7,505.6 536.9,506.7 536.7,508.5 C536.5,510.3 536.0,513.2 535.5,516.0 C535.0,518.8 534.0,523.5 533.7,525.0" fill="none" stroke="#a0a0a0" stroke-width="1.5" stroke-linecap="round" stroke-linejoin="round"/>
<path d="M509.4,521.0 C509.6,520.1 509.6,516.9 510.5,515.5 C511.4,514.1 513.0,513.3 514.5,512.8 C516.0,512.2 517.6,512.2 519.2,512.2 C520.8,512.2 522.7,512.2 524.0,512.8 C525.3,513.3 526.6,514.1 527.2,515.5 C527.9,516.9 527.8,520.1 527.9,521.0" fill="none" stroke="#a0a0a0" stroke-width="1.5" stroke-linecap="round" stroke-linejoin="round"/>
<path d="M509.4,521.0 C509.2,522.5 508.9,525.2 508.5,530.0 C508.1,534.8 507.3,543.3 506.8,550.0 C506.3,556.7 505.8,565.0 505.6,570.0 C505.4,575.0 505.2,577.7 505.4,580.0 C505.6,582.3 504.9,582.9 507.0,583.6 C509.1,584.4 514.2,584.5 518.0,584.5 C521.8,584.5 527.8,584.4 530.0,583.6 C532.2,582.9 531.1,582.3 531.4,580.0 C531.7,577.7 531.5,573.7 531.6,570.0 C531.7,566.3 532.1,564.7 531.8,558.0 C531.5,551.3 530.5,536.2 529.9,530.0 C529.2,523.8 528.2,522.5 527.9,521.0" fill="none" stroke="#a0a0a0" stroke-width="1.5" stroke-linecap="round" stroke-linejoin="round"/>
<path d="M499.7,508.5 C494.2,509.0 478.6,509.6 466.6,511.4 C454.6,513.2 439.1,516.3 427.8,519.2 C416.5,522.1 406.7,525.7 398.6,528.9 C390.5,532.1 384.1,535.7 379.2,538.6 C374.3,541.5 371.5,544.1 369.4,546.4 C367.3,548.7 366.6,550.6 366.5,552.2 C366.4,553.8 368.2,555.5 368.5,556.1" fill="none" stroke="#a0a0a0" stroke-width="1.5" stroke-linecap="round" stroke-linejoin="round"/>
<path d="M502.6,525.0 C496.6,526.0 479.1,528.8 466.6,530.8 C454.1,532.8 439.1,534.1 427.8,536.7 C416.5,539.3 405.7,543.8 398.6,546.4 C391.5,549.0 388.9,550.4 385.0,552.2 C381.1,554.0 378.1,556.4 375.3,557.0 C372.6,557.6 369.6,556.2 368.5,556.1" fill="none" stroke="#a0a0a0" stroke-width="1.5" stroke-linecap="round" stroke-linejoin="round"/>
<path d="M499.7,504.0 C495.8,503.1 483.5,499.8 476.4,498.7 C469.3,497.6 462.2,497.0 457.0,497.6 C451.8,498.2 448.5,500.9 445.0,502.5 C441.5,504.1 438.5,505.5 436.0,507.0 C433.5,508.5 431.2,510.3 430.0,511.5 C428.8,512.7 428.3,514.0 428.6,514.3 C428.9,514.6 430.1,514.0 432.0,513.2 C433.9,512.4 436.6,510.1 439.8,509.3 C443.0,508.5 446.8,508.2 451.0,508.3 C455.2,508.4 460.5,509.2 465.0,509.7 C469.5,510.1 475.8,510.8 478.0,511.0" fill="none" stroke="#a0a0a0" stroke-width="1.5" stroke-linecap="round" stroke-linejoin="round"/>
<path d="M438.4,510.4 C438.2,511.5 437.2,515.9 437.0,517.0" fill="none" stroke="#a0a0a0" stroke-width="1.5" stroke-linecap="round" stroke-linejoin="round"/>
<path d="M450.8,509.1 C450.7,510.2 450.1,514.5 450.0,515.6" fill="none" stroke="#a0a0a0" stroke-width="1.5" stroke-linecap="round" stroke-linejoin="round"/>
<path d="M536.7,509.4 C541.9,509.9 557.8,511.1 567.8,512.4 C577.8,513.7 587.2,514.5 596.9,517.2 C606.6,520.0 617.4,525.0 626.1,528.9 C634.9,532.8 642.9,537.1 649.4,540.5 C655.9,543.9 661.8,547.0 665.0,549.3 C668.2,551.6 668.6,553.1 668.9,554.2 C669.2,555.3 668.2,556.1 666.9,556.1 C665.6,556.1 664.7,555.8 661.1,554.2 C657.5,552.6 651.3,549.0 645.5,546.4 C639.7,543.8 634.2,541.0 626.1,538.6 C618.0,536.2 606.6,533.6 596.9,531.8 C587.2,530.0 578.3,528.9 567.8,527.9 C557.3,526.9 539.4,526.3 533.7,526.0" fill="none" stroke="#a0a0a0" stroke-width="1.5" stroke-linecap="round" stroke-linejoin="round"/>
<path d="M536.7,503.0 C540.2,502.3 551.2,499.6 558.0,498.7 C564.8,497.8 571.7,497.3 577.5,497.8 C583.3,498.3 588.8,499.9 593.0,501.7 C597.2,503.5 600.4,506.4 602.8,508.5 C605.2,510.6 607.6,513.5 607.6,514.3 C607.6,515.0 604.5,513.5 603.0,513.0 C601.5,512.5 602.2,512.1 598.9,511.4 C595.6,510.6 589.1,508.7 583.3,508.5 C577.5,508.3 567.1,510.1 563.9,510.4" fill="none" stroke="#a0a0a0" stroke-width="1.5" stroke-linecap="round" stroke-linejoin="round"/>
<path d="M592.0,511.0 C592.1,511.8 592.4,515.2 592.5,516.0" fill="none" stroke="#a0a0a0" stroke-width="1.5" stroke-linecap="round" stroke-linejoin="round"/>
<path d="M600.5,512.0 C600.6,512.9 600.9,516.6 601.0,517.5" fill="none" stroke="#a0a0a0" stroke-width="1.5" stroke-linecap="round" stroke-linejoin="round"/>
<path d="M511.0,585.6 C514.1,585.3 525.9,585.3 529.0,585.6 C532.1,585.9 529.8,586.9 529.8,587.6 C529.8,588.3 532.1,589.4 529.0,589.8 C525.9,590.2 514.1,590.2 511.0,589.8 C507.9,589.4 510.2,588.3 510.2,587.6 C510.2,586.9 507.9,585.9 511.0,585.6Z" fill="none" stroke="#a0a0a0" stroke-width="1.5" stroke-linecap="round" stroke-linejoin="round"/>
<path d="M511.7,589.8 C511.7,593.1 511.6,605.9 511.7,609.6 C511.8,613.3 509.6,611.6 512.5,612.0 C515.4,612.4 525.9,612.4 528.8,612.0 C531.6,611.6 529.5,613.3 529.6,609.6 C529.7,605.9 529.6,593.1 529.6,589.8" fill="none" stroke="#a0a0a0" stroke-width="1.5" stroke-linecap="round" stroke-linejoin="round"/>
<path d="M511.7,592.6 C511.2,593.1 509.2,593.8 508.5,595.6 C507.8,597.4 507.6,600.9 507.5,603.6 C507.4,606.3 507.7,609.5 508.0,611.6 C508.3,613.7 508.8,615.2 509.5,616.1 C510.2,617.0 511.2,617.0 512.0,616.9 C512.8,616.8 513.8,616.4 514.3,615.6 C514.8,614.8 514.6,612.6 514.7,612.0" fill="none" stroke="#a0a0a0" stroke-width="1.5" stroke-linecap="round" stroke-linejoin="round"/>
<path d="M529.6,591.1 C530.2,591.7 532.2,592.5 533.0,594.6 C533.8,596.7 534.0,600.8 534.1,603.6 C534.2,606.4 533.9,609.5 533.5,611.6 C533.1,613.7 532.7,615.2 532.0,616.1 C531.3,617.0 530.2,617.0 529.3,616.9 C528.4,616.8 527.3,616.4 526.8,615.6 C526.3,614.8 526.5,612.6 526.5,612.0" fill="none" stroke="#a0a0a0" stroke-width="1.5" stroke-linecap="round" stroke-linejoin="round"/>
<path d="M370.9,559.0 C373.7,558.7 384.5,558.7 387.4,559.0 C390.3,559.3 388.2,560.2 388.2,560.8 C388.2,561.5 390.3,562.5 387.4,562.9 C384.5,563.2 373.7,563.2 370.9,562.9 C368.0,562.5 370.1,561.5 370.1,560.8 C370.1,560.2 368.0,559.3 370.9,559.0Z" fill="none" stroke="#a0a0a0" stroke-width="1.5" stroke-linecap="round" stroke-linejoin="round"/>
<path d="M371.5,562.9 C371.5,565.9 371.4,577.7 371.5,581.1 C371.6,584.5 369.6,582.9 372.2,583.3 C374.9,583.7 384.6,583.7 387.2,583.3 C389.9,582.9 387.8,584.5 388.0,581.1 C388.1,577.7 388.0,565.9 388.0,562.9" fill="none" stroke="#a0a0a0" stroke-width="1.5" stroke-linecap="round" stroke-linejoin="round"/>
<path d="M371.5,565.4 C371.0,565.9 369.2,566.5 368.6,568.2 C367.9,569.9 367.7,573.1 367.6,575.6 C367.6,578.0 367.8,581.0 368.1,582.9 C368.4,584.8 368.9,586.2 369.5,587.1 C370.1,587.9 371.0,587.9 371.8,587.8 C372.5,587.7 373.5,587.4 373.9,586.6 C374.3,585.8 374.2,583.8 374.3,583.3" fill="none" stroke="#a0a0a0" stroke-width="1.5" stroke-linecap="round" stroke-linejoin="round"/>
<path d="M388.0,564.1 C388.5,564.6 390.4,565.4 391.1,567.3 C391.8,569.2 392.0,573.0 392.1,575.6 C392.2,578.2 391.9,581.0 391.6,582.9 C391.2,584.8 390.8,586.2 390.2,587.1 C389.5,587.9 388.5,587.9 387.7,587.8 C386.9,587.7 385.8,587.4 385.4,586.6 C385.0,585.8 385.2,583.8 385.1,583.3" fill="none" stroke="#a0a0a0" stroke-width="1.5" stroke-linecap="round" stroke-linejoin="round"/>
<path d="M648.8,558.5 C651.6,558.2 662.4,558.2 665.3,558.5 C668.2,558.8 666.1,559.7 666.1,560.3 C666.1,561.0 668.2,562.0 665.3,562.4 C662.4,562.7 651.6,562.7 648.8,562.4 C645.9,562.0 648.0,561.0 648.0,560.3 C648.0,559.7 645.9,558.8 648.8,558.5Z" fill="none" stroke="#a0a0a0" stroke-width="1.5" stroke-linecap="round" stroke-linejoin="round"/>
<path d="M649.4,562.4 C649.4,565.4 649.3,577.2 649.4,580.6 C649.5,584.0 647.5,582.4 650.1,582.8 C652.8,583.2 662.5,583.2 665.1,582.8 C667.8,582.4 665.7,584.0 665.9,580.6 C666.0,577.2 665.9,565.4 665.9,562.4" fill="none" stroke="#a0a0a0" stroke-width="1.5" stroke-linecap="round" stroke-linejoin="round"/>
<path d="M649.4,564.9 C648.9,565.4 647.1,566.0 646.5,567.7 C645.8,569.4 645.6,572.6 645.5,575.1 C645.5,577.5 645.7,580.5 646.0,582.4 C646.3,584.3 646.8,585.7 647.4,586.6 C648.0,587.4 648.9,587.4 649.7,587.3 C650.4,587.2 651.4,586.9 651.8,586.1 C652.2,585.3 652.1,583.3 652.2,582.8" fill="none" stroke="#a0a0a0" stroke-width="1.5" stroke-linecap="round" stroke-linejoin="round"/>
<path d="M665.9,563.6 C666.4,564.1 668.3,564.9 669.0,566.8 C669.7,568.7 669.9,572.5 670.0,575.1 C670.1,577.7 669.8,580.5 669.5,582.4 C669.1,584.3 668.7,585.7 668.1,586.6 C667.4,587.4 666.4,587.4 665.6,587.3 C664.8,587.2 663.7,586.9 663.3,586.1 C662.9,585.3 663.1,583.3 663.0,582.8" fill="none" stroke="#a0a0a0" stroke-width="1.5" stroke-linecap="round" stroke-linejoin="round"/>
<path d="M427.0,537.5 C426.9,538.2 426.2,540.4 426.5,541.5 C426.8,542.6 428.0,543.8 429.0,544.3 C430.0,544.8 431.6,544.8 432.5,544.3 C433.4,543.8 434.2,542.5 434.5,541.5 C434.8,540.5 434.5,538.6 434.5,538.0" fill="none" stroke="#a0a0a0" stroke-width="1.5" stroke-linecap="round" stroke-linejoin="round"/>
<path d="M441.5,535.0 C441.4,536.1 440.6,539.9 441.0,541.5 C441.4,543.1 442.8,544.1 444.0,544.6 C445.2,545.1 447.2,545.1 448.5,544.6 C449.8,544.1 451.0,543.2 451.5,541.5 C452.0,539.8 451.6,535.7 451.6,534.5" fill="none" stroke="#a0a0a0" stroke-width="1.5" stroke-linecap="round" stroke-linejoin="round"/>
<path d="M583.5,531.0 C583.4,532.6 582.7,538.4 583.0,540.5 C583.3,542.6 584.6,543.2 585.5,543.8 C586.4,544.3 587.8,544.3 588.5,543.8 C589.2,543.2 589.8,542.3 590.0,540.5 C590.2,538.7 590.0,534.2 590.0,533.0" fill="none" stroke="#a0a0a0" stroke-width="1.5" stroke-linecap="round" stroke-linejoin="round"/>
<path d="M599.0,533.0 C599.0,534.2 598.6,538.6 599.0,540.5 C599.4,542.4 600.6,543.6 601.5,544.2 C602.4,544.8 603.6,544.8 604.5,544.2 C605.4,543.6 606.2,542.5 606.6,540.5 C607.0,538.5 606.6,533.4 606.6,532.0" fill="none" stroke="#a0a0a0" stroke-width="1.5" stroke-linecap="round" stroke-linejoin="round"/>
<line x1="251" y1="43" x2="401" y2="43" stroke="#111" stroke-width="1.6" />
<line x1="265.5" y1="43.5" x2="265.5" y2="586" stroke="#111" stroke-width="1.6" />
<polygon points="265.50,43.50 268.70,52.80 262.30,52.80" fill="#111"/>
<polygon points="265.50,586.00 262.30,576.70 268.70,576.70" fill="#111"/>
<line x1="282" y1="262.3" x2="392" y2="262.3" stroke="#111" stroke-width="1.5" />
<line x1="296.6" y1="262.5" x2="296.6" y2="586" stroke="#111" stroke-width="1.6" />
<polygon points="296.60,262.50 299.80,271.80 293.40,271.80" fill="#111"/>
<polygon points="296.60,586.00 293.40,576.70 299.80,576.70" fill="#111"/>
<line x1="328.8" y1="262.5" x2="328.8" y2="359.6" stroke="#111" stroke-width="1.6" />
<polygon points="328.80,262.50 332.00,271.80 325.60,271.80" fill="#111"/>
<polygon points="328.80,359.60 325.60,350.30 332.00,350.30" fill="#111"/>
<line x1="314" y1="359.6" x2="481" y2="359.6" stroke="#111" stroke-width="1.5" />
<line x1="328.8" y1="359.8" x2="328.8" y2="586" stroke="#111" stroke-width="1.6" />
<polygon points="328.80,359.80 332.00,369.10 325.60,369.10" fill="#111"/>
<polygon points="328.80,586.00 325.60,576.70 332.00,576.70" fill="#111"/>
<line x1="251" y1="586.3" x2="363.5" y2="586.3" stroke="#111" stroke-width="1.6" />
<line x1="425.5" y1="0" x2="425.5" y2="43" stroke="#666" stroke-width="1" />
<line x1="637.5" y1="62" x2="637.5" y2="430" stroke="#666" stroke-width="1" />
<line x1="426" y1="12" x2="637" y2="74" stroke="#111" stroke-width="1.6" />
<polygon points="426.00,12.00 437.91,11.54 435.77,18.83" fill="#111"/>
<polygon points="637.00,74.00 625.09,74.46 627.23,67.17" fill="#111"/>
<text x="536" y="35" transform="rotate(16.4 536 35)" font-size="12.8" text-anchor="middle" dominant-baseline="central" fill="#111" stroke="#111" stroke-width="0.3">76 cm</text>
<line x1="627.5" y1="109" x2="627.5" y2="242.5" stroke="#666" stroke-width="1" />
<line x1="393.5" y1="211" x2="393.5" y2="277.5" stroke="#555" stroke-width="1" />
<line x1="394" y1="225" x2="627" y2="116" stroke="#111" stroke-width="1.6" />
<polygon points="394.00,225.00 402.63,216.77 405.85,223.65" fill="#111"/>
<polygon points="627.00,116.00 618.37,124.23 615.15,117.35" fill="#111"/>
<text x="516.5" y="159" transform="rotate(-24.5 516.5 159)" font-size="12.8" text-anchor="middle" dominant-baseline="central" fill="#111" stroke="#111" stroke-width="0.3">67 cm</text>
<line x1="423" y1="235" x2="422.5" y2="276" stroke="#888" stroke-width="1.3" />
<line x1="469" y1="216" x2="424" y2="237" stroke="#111" stroke-width="1.6" />
<polygon points="424.00,237.00 432.77,228.60 436.07,235.67" fill="#111"/>
<line x1="374" y1="263" x2="392.5" y2="253.8" stroke="#111" stroke-width="1.6" />
<polygon points="392.50,253.80 383.94,262.41 380.47,255.43" fill="#111"/>
<text x="448" y="216.5" transform="rotate(-25 448 216.5)" font-size="12.8" text-anchor="middle" dominant-baseline="central" fill="#111" stroke="#111" stroke-width="0.3">6 cm</text>
<line x1="500" y1="355" x2="637.5" y2="388.7" stroke="#111" stroke-width="1.6" />
<polygon points="500.00,355.00 511.88,354.00 510.07,361.38" fill="#111"/>
<polygon points="637.50,388.70 625.62,389.70 627.43,382.32" fill="#111"/>
<text x="578.5" y="364.8" transform="rotate(14.5 578.5 364.8)" font-size="12.8" text-anchor="middle" dominant-baseline="central" fill="#111" stroke="#111" stroke-width="0.3">52 cm</text>
<line x1="670" y1="317.5" x2="670" y2="427.5" stroke="#111" stroke-width="1.6" />
<polygon points="670.00,370.80 666.10,360.50 673.90,360.50" fill="#111"/>
<polygon points="670.00,415.50 673.90,425.50 666.10,425.50" fill="#111"/>
<text x="660" y="342" transform="rotate(-90 660 342)" font-size="12.8" text-anchor="middle" dominant-baseline="central" fill="#111" stroke="#111" stroke-width="0.3">13 cm</text>
<line x1="682.5" y1="387.5" x2="757.5" y2="406" stroke="#222" stroke-width="1" />
<line x1="495" y1="421" x2="656" y2="462" stroke="#222" stroke-width="1" />
<line x1="645" y1="458.7" x2="751" y2="406" stroke="#111" stroke-width="1.6" />
<polygon points="645.00,458.70 653.43,450.27 656.81,457.07" fill="#111"/>
<polygon points="751.00,406.00 742.57,414.43 739.19,407.63" fill="#111"/>
<text x="693" y="427" transform="rotate(-26.6 693 427)" font-size="12.8" text-anchor="middle" dominant-baseline="central" fill="#111" stroke="#111" stroke-width="0.3">57 cm</text>
<line x1="520" y1="470" x2="367.5" y2="537.5" stroke="#111" stroke-width="1.6" />
<polygon points="520.00,470.00 511.20,478.05 508.13,471.10" fill="#111"/>
<polygon points="367.50,537.50 376.30,529.45 379.37,536.40" fill="#111"/>
<text x="430" y="501" transform="rotate(-24 430 501)" font-size="12.8" text-anchor="middle" dominant-baseline="central" fill="#111" stroke="#111" stroke-width="0.3">36 cm</text>
<line x1="366" y1="532" x2="366" y2="577" stroke="#666" stroke-width="1" />
<line x1="520.2" y1="444.5" x2="520.2" y2="504" stroke="#111" stroke-width="1.5" stroke-dasharray="7,4.5,1.3,4.7"/>
<text x="254" y="315" transform="rotate(-90 254 315)" font-size="12.8" text-anchor="middle" dominant-baseline="central" fill="#111" stroke="#111" stroke-width="0.3">116-124 cm</text>
<text x="285" y="424" transform="rotate(-90 285 424)" font-size="12.8" text-anchor="middle" dominant-baseline="central" fill="#111" stroke="#111" stroke-width="0.3">72-80 cm</text>
<text x="318.5" y="313" transform="rotate(-90 318.5 313)" font-size="12.8" text-anchor="middle" dominant-baseline="central" fill="#111" stroke="#111" stroke-width="0.3">22 cm</text>
<text x="317" y="473" transform="rotate(-90 317 473)" font-size="12.8" text-anchor="middle" dominant-baseline="central" fill="#111" stroke="#111" stroke-width="0.3">50-58 cm</text></svg>
</body></html>
